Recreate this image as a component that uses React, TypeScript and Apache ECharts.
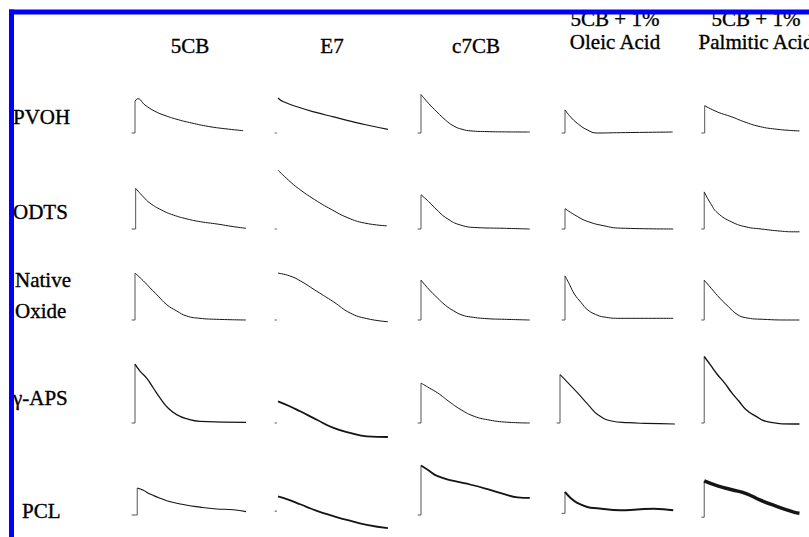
import React, { useEffect, useRef } from 'react';
import * as echarts from 'echarts';

// ---------- categories ----------
const columnTitles = [['5CB'], ['E7'], ['c7CB'], ['5CB + 1%', 'Oleic Acid'], ['5CB + 1%', 'Palmitic Acid']];
const rowTitles = [['PVOH'], ['ODTS'], ['Native', 'Oxide'], ['γ-APS'], ['PCL']];

// ---------- traces: [time (ms), normalized signal] ----------
const pvoh5CB = [[0, 0.45], [0.24, 0.49], [0.9, 0.4], [1.8, 0.31], [2.7, 0.25], [3.9, 0.19], [5.1, 0.143], [6.6, 0.094], [8.1, 0.061], [9.75, 0.033]];
const pvohE7 = [[0, 0.5], [0.45, 0.45], [2, 0.36], [3.5, 0.29], [5, 0.23], [6.5, 0.17], [8, 0.114], [9.9, 0.053]];
const pvohC7CB = [[0, 0.55], [0.7, 0.42], [1.45, 0.3], [2.2, 0.186], [2.95, 0.1], [3.7, 0.053], [4.5, 0.03], [5.95, 0.02], [7.5, 0.016], [9.8, 0.014]];
const pvohOleic = [[0, 0.33], [0.5, 0.23], [1.1, 0.14], [2.0, 0.045], [2.9, 0.0], [5.0, 0.005], [9.7, 0.014]];
const pvohPalmitic = [[0.05, 0.39], [1.4, 0.3], [2.9, 0.23], [4.4, 0.15], [5.9, 0.09], [7.4, 0.057], [9.4, 0.033], [10, 0.03]];

const odts5CB = [[0.06, 0.58], [0.75, 0.46], [1.35, 0.37], [2.4, 0.27], [3.45, 0.2], [4.7, 0.143], [5.9, 0.104], [7.4, 0.071], [8.9, 0.033], [10, 0.01]];
const odtsE7 = [[0, 0.84], [0.93, 0.7], [1.83, 0.58], [3.3, 0.42], [4.8, 0.28], [6.3, 0.16], [7.8, 0.085], [9.8, 0.045]];
const odtsC7CB = [[0, 0.49], [0.7, 0.39], [1.45, 0.27], [2.35, 0.15], [3.55, 0.057], [5.05, 0.02], [7.5, 0.01], [9.8, 0]];
const odtsOleic = [[0, 0.29], [1.1, 0.18], [2.0, 0.11], [3.5, 0.046], [5.0, 0.012], [9.75, 0]];
const odtsPalmitic = [[0, 0.53], [0.65, 0.37], [1.4, 0.23], [2.9, 0.1], [4.4, 0.03], [6, 0], [8, -0.03], [9.4, -0.04], [10, -0.04]];

const native5CB = [[0, 0.67], [0.75, 0.56], [1.35, 0.46], [2.1, 0.34], [2.85, 0.22], [3.75, 0.13], [4.65, 0.057], [5.85, 0.024], [7.35, 0.01], [10, 0]];
const nativeE7 = [[0, 0.67], [1.05, 0.63], [2, 0.56], [3.5, 0.41], [5, 0.26], [6.5, 0.1], [8, 0.02], [9.9, -0.025]];
const nativeC7CB = [[0, 0.57], [0.7, 0.44], [1.45, 0.32], [2.2, 0.21], [2.95, 0.13], [3.7, 0.071], [4.5, 0.043], [5.95, 0.019], [7.5, 0.01], [9.8, 0]];
const nativeOleic = [[0, 0.63], [0.4, 0.51], [0.85, 0.37], [1.45, 0.25], [2.0, 0.15], [2.75, 0.08], [3.5, 0.043], [5.0, 0.024], [9.75, 0.024]];
const nativePalmitic = [[0, 0.57], [0.75, 0.45], [1.65, 0.31], [2.55, 0.19], [3.45, 0.081], [4.35, 0.033], [6.15, 0.01], [9.15, 0], [10, 0]];

const aps5CB = [[0, 0.84], [0.45, 0.74], [1.05, 0.64], [1.65, 0.5], [2.25, 0.36], [3.0, 0.21], [3.75, 0.12], [4.65, 0.061], [5.85, 0.024], [10, 0.01]];
const apsE7 = [[0, 0.31], [1.05, 0.24], [2, 0.167], [3.5, 0.047], [5, -0.07], [6.5, -0.14], [8, -0.19], [9.9, -0.2]];
const apsC7CB = [[0, 0.57], [0.75, 0.5], [1.5, 0.43], [2.5, 0.31], [3.6, 0.19], [4.8, 0.095], [6.0, 0.047], [7.5, 0.014], [9.8, 0]];
const apsOleic = [[0, 0.69], [0.75, 0.57], [1.65, 0.42], [2.55, 0.26], [3.45, 0.114], [4.65, 0.029], [6.15, 0.005], [7.65, -0.005], [10.35, -0.014]];
const apsPalmitic = [[0, 0.95], [0.65, 0.83], [1.4, 0.69], [2.15, 0.57], [2.9, 0.43], [3.65, 0.31], [4.4, 0.19], [5.45, 0.095], [6.5, 0.024], [9.4, -0.014], [10, -0.014]];

const pcl5CB = [[0.2, 0.49], [0.75, 0.45], [1.35, 0.38], [2.1, 0.32], [2.85, 0.26], [4.35, 0.19], [5.85, 0.143], [7.35, 0.11], [8.85, 0.095], [10, 0.061]];
const pclE7 = [[0, 0.34], [1.05, 0.27], [2, 0.195], [3.5, 0.076], [5, -0.02], [6.2, -0.09], [8, -0.18], [9.9, -0.24]];
const pclC7CB = [[0, 0.9], [0.7, 0.81], [1.45, 0.71], [2.95, 0.62], [4.5, 0.55], [6.0, 0.47], [7.5, 0.38], [8.7, 0.32], [9.8, 0.31]];
const pclOleic = [[0, 0.42], [0.5, 0.31], [1.1, 0.22], [2.0, 0.147], [2.9, 0.124], [5.0, 0.086], [6.5, 0.1], [8.0, 0.114], [9.75, 0.086]];
const pclPalmitic = [[0, 0.62], [1.4, 0.53], [2.9, 0.46], [4.4, 0.39], [5.9, 0.27], [7.4, 0.17], [9.4, 0.053], [10, 0.03]];

const traces = [
  [pvoh5CB, pvohE7, pvohC7CB, pvohOleic, pvohPalmitic],
  [odts5CB, odtsE7, odtsC7CB, odtsOleic, odtsPalmitic],
  [native5CB, nativeE7, nativeC7CB, nativeOleic, nativePalmitic],
  [aps5CB, apsE7, apsC7CB, apsOleic, apsPalmitic],
  [pcl5CB, pclE7, pclC7CB, pclOleic, pclPalmitic],
];
// pre-trigger baseline level of each trace
const preLevels = [
  [0, 0, 0, 0, 0],
  [0, 0, 0, 0, 0],
  [0, 0, 0, 0, 0],
  [0, 0, 0, 0, 0],
  [0, 0.07, 0, 0.03, -0.04],
];
const hasRiser = [true, false, true, true, true];

// ---------- layout / style ----------
const colT0X = [135, 278, 421, 565, 705];
const panelDx = [
  [0, 0, 0, 0, 0],
  [0, 0, 0, 0, 0],
  [0, 0, 0, 0, 0],
  [0, 0, 0, -5, 0],
  [0, 0, 0, 0, 0],
];
const rowBaseY = [133, 229, 320, 423, 530];
const lineWidths = [
  [1, 1.2, 1, 1, 1],
  [1, 1, 1, 1, 1],
  [1, 1, 1, 1, 1],
  [1.3, 1.8, 1, 1.1, 1.4],
  [1.1, 1.8, 1.8, 2, 3.5],
];
const PX_T = 11.1;
const PX_V = 70;
const T_MIN = -0.5, T_MAX = 11, V_MIN = -0.4, V_MAX = 1;
const colCenterX = [190, 332, 476, 615, 756];
const headerSingleY = 46;
const headerDoubleY = [19, 42];
const rowLabelX = [13, 13, 15, 13, 22];
const rowLabelY = [[117], [212], [280, 311], [398], [511]];
const SERIF = '"Liberation Serif", "Times New Roman", serif';

export default function App() {
  const ref = useRef<HTMLDivElement>(null);
  useEffect(() => {
    if (!ref.current) return;
    const chart = echarts.init(ref.current, undefined, { renderer: 'svg' });
    const grid: any[] = [], xAxis: any[] = [], yAxis: any[] = [], series: any[] = [];
    let k = 0;
    for (let r = 0; r < 5; r++) {
      for (let c = 0; c < 5; c++) {
        const x0 = colT0X[c] + panelDx[r][c];
        const base = rowBaseY[r];
        grid.push({
          left: x0 + T_MIN * PX_T,
          top: base - V_MAX * PX_V,
          width: (T_MAX - T_MIN) * PX_T,
          height: (V_MAX - V_MIN) * PX_V,
          containLabel: false,
        });
        xAxis.push({ type: 'value', gridIndex: k, min: T_MIN, max: T_MAX, show: false });
        yAxis.push({ type: 'value', gridIndex: k, min: V_MIN, max: V_MAX, show: false });
        const tr = traces[r][c];
        const pre = preLevels[r][c];
        const riser = hasRiser[c]
          ? [[-0.3, pre], [tr[0][0], pre], [tr[0][0], tr[0][1]]]
          : [[-0.3, pre], [-0.1, pre]];
        series.push({
          type: 'line', xAxisIndex: k, yAxisIndex: k, data: riser, symbol: 'none', clip: false,
          lineStyle: { color: '#555', width: 1 }, silent: true,
        });
        series.push({
          type: 'line', xAxisIndex: k, yAxisIndex: k, data: tr, symbol: 'none', clip: false,
          smooth: 0.5,
          lineStyle: { color: '#151515', width: lineWidths[r][c] }, silent: true,
        });
        k++;
      }
    }
    const graphic: any[] = [];
    columnTitles.forEach((lines, c) => {
      lines.forEach((t, i) => {
        graphic.push({
          type: 'text', x: colCenterX[c], y: lines.length === 1 ? headerSingleY : headerDoubleY[i], z: 5,
          style: {
            text: t, font: `21px ${SERIF}`, fill: '#000', textAlign: 'center', textVerticalAlign: 'middle',
            stroke: '#000', lineWidth: 0.35,
          },
        });
      });
    });
    rowTitles.forEach((lines, r) => {
      lines.forEach((t, i) => {
        graphic.push({
          type: 'text', x: rowLabelX[r], y: rowLabelY[r][i], z: 5,
          style: {
            text: t, font: `21px ${SERIF}`, fill: '#000', textAlign: 'left', textVerticalAlign: 'middle',
            stroke: '#000', lineWidth: 0.35,
          },
        });
      });
    });
    graphic.push({ type: 'rect', z: 100, shape: { x: 9, y: 9.5, width: 800, height: 5 }, style: { fill: '#0000ff' } });
    graphic.push({ type: 'rect', z: 100, shape: { x: 9, y: 9.5, width: 5, height: 528 }, style: { fill: '#0000ff' } });

    chart.setOption({
      animation: false,
      backgroundColor: '#ffffff',
      grid, xAxis, yAxis, series, graphic,
    });
    return () => chart.dispose();
  }, []);
  return <div ref={ref} style={{ position: 'fixed', left: 0, top: 0, width: 809, height: 537 }} />;
}
